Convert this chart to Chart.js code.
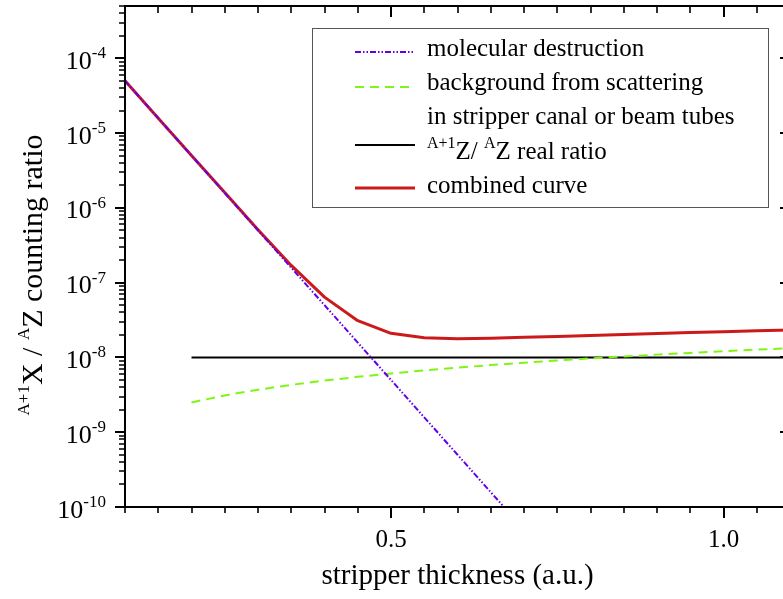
<!DOCTYPE html>
<html>
<head>
<meta charset="utf-8">
<script src="https://cdn.jsdelivr.net/npm/chart.js@4"></script>
<style>
  html, body { margin: 0; padding: 0; overflow: hidden; background: #fff; }
  canvas { display: block; }
</style>
</head>
<body>
<canvas id="chart" width="800" height="599"></canvas>
<script>
// Stripper thickness grid (a.u.)
const thickness = [0.10, 0.15, 0.20, 0.25, 0.30, 0.35, 0.40, 0.45, 0.50, 0.55, 0.60,
                   0.65, 0.70, 0.75, 0.80, 0.85, 0.90, 0.95, 1.00, 1.05, 1.10];

// Molecular destruction, from 0.10 to 0.70
const molecularDestruction = [5.0e-5, 1.58e-5, 5.0e-6, 1.58e-6, 5.0e-7, 1.58e-7, 5.0e-8,
                              1.58e-8, 5.0e-9, 1.58e-9, 5.0e-10, 1.58e-10, 5.0e-11];

// Background from scattering, from 0.20 to 1.10
const scatteringBackground = [2.5e-9, 3.1e-9, 3.7e-9, 4.3e-9, 4.9e-9, 5.5e-9, 6.1e-9, 6.7e-9,
                              7.3e-9, 7.9e-9, 8.5e-9, 9.1e-9, 9.7e-9, 1.03e-8, 1.09e-8,
                              1.15e-8, 1.21e-8, 1.27e-8, 1.33e-8];

// Real isotope ratio (constant)
const realRatioX = [0.20, 1.10];
const realRatio = [1.0e-8, 1.0e-8];

// Combined curve, from 0.10 to 1.10
const combinedCurve = [5.0e-5, 1.58e-5, 5.0e-6, 1.6e-6, 5.1e-7, 1.7e-7, 6.4e-8, 3.1e-8,
                       2.1e-8, 1.83e-8, 1.78e-8, 1.81e-8, 1.86e-8, 1.91e-8, 1.97e-8,
                       2.03e-8, 2.09e-8, 2.15e-8, 2.21e-8, 2.27e-8, 2.33e-8];

// Axis ticks
const yDecades = [-10, -9, -8, -7, -6, -5, -4];
const xMajorTicks = [0.5, 1.0];
const xTickLabels = ['0.5', '1.0'];
const xMinorStep = 0.05;

const SERIF = '"Liberation Serif", "Times New Roman", serif';

function pts(xs, ys, offset) {
  return ys.map((v, i) => ({ x: xs[i + offset], y: v }));
}

// Text made of normal and superscript runs
function runsWidth(ctx, runs, base, sup) {
  let w = 0;
  for (const r of runs) {
    ctx.font = (r.sup ? sup : base) + 'px ' + SERIF;
    w += ctx.measureText(r.t).width;
  }
  return w;
}
function drawRuns(ctx, runs, x, y, base, sup, rise) {
  for (const r of runs) {
    ctx.font = (r.sup ? sup : base) + 'px ' + SERIF;
    ctx.fillText(r.t, x, r.sup ? y - rise : y);
    x += ctx.measureText(r.t).width;
  }
  return x;
}

const yTitleRuns = [
  { t: 'A+1', sup: true }, { t: 'X / ' }, { t: 'A', sup: true }, { t: 'Z counting ratio' }
];
const xTitle = 'stripper thickness (a.u.)';

const datasets = [
  {
    label: 'molecular destruction',
    data: pts(thickness, molecularDestruction, 0),
    borderColor: '#6200e8', borderWidth: 2,
    borderDash: [6, 2, 1.5, 2, 1.5, 2],
    order: 0
  },
  {
    label: 'background from scattering',
    extra: 'in stripper canal or beam tubes',
    data: pts(thickness, scatteringBackground, 2),
    borderColor: '#80f514', borderWidth: 2,
    borderDash: [9, 6],
    order: 1
  },
  {
    label: [{ t: 'A+1', sup: true }, { t: 'Z/ ' }, { t: 'A', sup: true }, { t: 'Z real ratio' }],
    data: pts(realRatioX, realRatio, 0),
    borderColor: '#000000', borderWidth: 2,
    order: 2
  },
  {
    label: 'combined curve',
    data: pts(thickness, combinedCurve, 0),
    borderColor: '#cc1a1a', borderWidth: 3,
    order: 3
  }
];

const framePlugin = {
  id: 'frame',
  afterDraw(chart) {
    const ctx = chart.ctx;
    const xs = chart.scales.x, ys = chart.scales.y;
    const { left, right, top, bottom } = chart.chartArea;
    ctx.save();
    ctx.strokeStyle = '#000';
    ctx.fillStyle = '#000';
    ctx.lineCap = 'butt';

    // Frame
    ctx.lineWidth = 2;
    ctx.strokeRect(left, top, right - left, bottom - top);

    // X ticks: bottom outward, top inward
    for (let i = 2; i <= 22; i++) {
      const v = Math.round(i * xMinorStep * 100) / 100;
      const px = Math.round(xs.getPixelForValue(v));
      const major = xMajorTicks.some(m => Math.abs(m - v) < 1e-9);
      ctx.lineWidth = major ? 2 : 1.6;
      ctx.beginPath();
      ctx.moveTo(px, bottom); ctx.lineTo(px, bottom + (major ? 11 : 6));
      ctx.moveTo(px, top); ctx.lineTo(px, top + (major ? 11 : 7));
      ctx.stroke();
    }

    // Y ticks: left outward, right inward
    for (const e of yDecades) {
      for (let k = 1; k <= 9; k++) {
        const v = k * Math.pow(10, e);
        if (v > ys.max * 1.0001) break;
        const py = Math.round(ys.getPixelForValue(v));
        const major = k === 1;
        ctx.lineWidth = major ? 2 : 1.6;
        ctx.beginPath();
        ctx.moveTo(left - (major ? 10 : 6), py); ctx.lineTo(left, py);
        ctx.moveTo(right - (major ? 10 : 6), py); ctx.lineTo(right, py);
        ctx.stroke();
      }
    }

    // Y tick labels: 10 with superscript exponent
    ctx.textBaseline = 'alphabetic';
    ctx.textAlign = 'left';
    for (const e of yDecades) {
      const py = ys.getPixelForValue(Math.pow(10, e));
      const runs = [{ t: '10' }, { t: String(e), sup: true }];
      const w = runsWidth(ctx, runs, 26, 17);
      drawRuns(ctx, runs, 106 - w, py + 10.5, 26, 17, 10.5);
    }

    // X tick labels
    ctx.font = '25px ' + SERIF;
    ctx.textAlign = 'center';
    xMajorTicks.forEach((v, i) => {
      ctx.fillText(xTickLabels[i], xs.getPixelForValue(v), 547);
    });

    // Axis titles
    ctx.font = '29px ' + SERIF;
    ctx.fillText(xTitle, (left + right) / 2, 584);

    ctx.textAlign = 'left';
    ctx.save();
    ctx.translate(42, 275);
    ctx.rotate(-Math.PI / 2);
    const tw = runsWidth(ctx, yTitleRuns, 30, 17);
    drawRuns(ctx, yTitleRuns, -tw / 2, 0, 30, 17, 13);
    ctx.restore();

    // Legend box
    ctx.fillStyle = '#fff';
    ctx.fillRect(312, 28, 456, 179);
    ctx.strokeStyle = '#555';
    ctx.lineWidth = 1;
    ctx.strokeRect(312.5, 28.5, 456, 179);

    const sampleY = [52, 87, 145, 188];
    const textY = [56, 90, 159, 193];
    const ds = chart.data.datasets;
    ctx.fillStyle = '#000';
    ds.forEach((d, i) => {
      ctx.strokeStyle = d.borderColor;
      ctx.lineWidth = d.borderWidth;
      ctx.setLineDash(d.borderDash || []);
      ctx.beginPath();
      ctx.moveTo(355, sampleY[i]); ctx.lineTo(415, sampleY[i]);
      ctx.stroke();
      ctx.setLineDash([]);
      if (Array.isArray(d.label)) {
        drawRuns(ctx, d.label, 427, textY[i], 25, 16, 11);
      } else {
        ctx.font = '25px ' + SERIF;
        ctx.fillText(d.label, 427, textY[i]);
      }
      if (d.extra) {
        ctx.font = '25px ' + SERIF;
        ctx.fillText(d.extra, 427, 124);
      }
    });
    ctx.restore();
  }
};

new Chart(document.getElementById('chart'), {
  type: 'line',
  data: { datasets },
  options: {
    responsive: false,
    animation: false,
    devicePixelRatio: 1,
    parsing: true,
    layout: { padding: { left: 125, top: 6, right: 10, bottom: 92 } },
    elements: {
      point: { radius: 0 },
      line: { tension: 0, fill: false, borderCapStyle: 'butt', borderJoinStyle: 'round' }
    },
    plugins: { legend: { display: false }, tooltip: { enabled: false } },
    scales: {
      x: {
        type: 'linear', min: 0.1, max: 1.1,
        ticks: { display: false }, grid: { display: false }, border: { display: false },
        afterFit(s) { s.height = 0; }
      },
      y: {
        type: 'logarithmic', min: 1e-10, max: 5e-4,
        ticks: { display: false }, grid: { display: false }, border: { display: false },
        afterFit(s) { s.width = 0; }
      }
    }
  },
  plugins: [framePlugin]
});
</script>
</body>
</html>
